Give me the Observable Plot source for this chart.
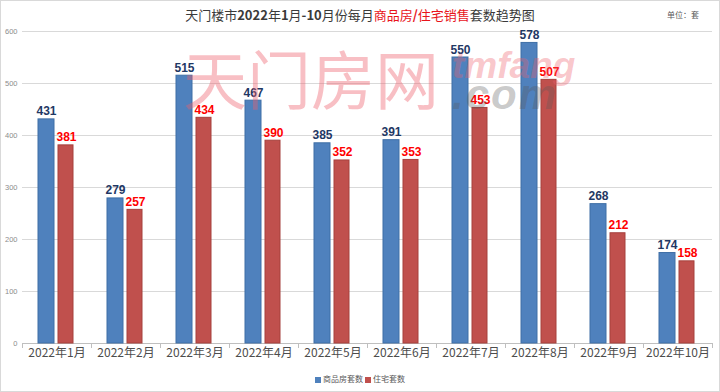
<!DOCTYPE html>
<html>
<head>
<meta charset="utf-8">
<script src="https://cdn.jsdelivr.net/npm/d3@7"></script>
<script src="https://cdn.jsdelivr.net/npm/@observablehq/plot@0.6"></script>
<style>
  html, body { margin: 0; padding: 0; background: #fff; }
  #wrap { position: relative; width: 720px; height: 392px; overflow: hidden; font-family: "Noto Sans CJK SC", sans-serif; }
  #chart { position: absolute; left: 0; top: 0; }
  .abs { position: absolute; white-space: nowrap; pointer-events: none; }
  #title { left: 0; width: 720px; top: 7px; text-align: center; font-size: 13px; line-height: 16px; color: #3a3a3a; }
  #title .r { color: #e8141b; }
  #unit { left: 667px; top: 9px; font-size: 8px; color: #595959; }
  #legend { left: 0; width: 720px; top: 374px; text-align: center; font-size: 8px; line-height: 10px; color: #595959; }
  #legend .sw { display: inline-block; width: 6px; height: 6px; margin: 0 2px 0 0; vertical-align: -0.5px; }
  #wm1 { left: 183px; top: 44px; font-size: 64px; line-height: 64px; color: rgba(238, 95, 108, 0.40); }
  #wm2 { left: 452px; top: 43px; font-family: "Liberation Sans", sans-serif; font-size: 37px; line-height: 46px; font-weight: bold; font-style: italic; letter-spacing: 0px; color: rgba(238, 95, 108, 0.36); }
  #wm3 { left: 452px; top: 70px; font-family: "Liberation Sans", sans-serif; font-size: 42px; line-height: 50px; font-weight: bold; font-style: italic; letter-spacing: 2px; color: rgba(90, 90, 90, 0.32); }
  #border { left: 0; top: 0; width: 718px; height: 390px; border: 1px solid #d9d9d9; }
</style>
</head>
<body>
<div id="wrap">
  <div id="chart"></div>
  <div class="abs" id="wm1">天门房网</div>
  <div class="abs" id="wm2">tmfang</div>
  <div class="abs" id="wm3">.com</div>
  <div class="abs" id="title">天门楼市<b>2022</b>年<b>1</b>月<b>-10</b>月份每月<span class="r">商品房<b>/</b>住宅销售</span>套数趋势图</div>
  <div class="abs" id="unit">单位：套</div>
  <div class="abs" id="legend"><span class="sw" style="background:#4f81bd"></span>商品房套数 <span class="sw" style="background:#c0504d"></span>住宅套数</div>
  <div class="abs" id="border"></div>
</div>
<script>
const months = ["2022年1月","2022年2月","2022年3月","2022年4月","2022年5月","2022年6月","2022年7月","2022年8月","2022年9月","2022年10月"];
const commercial = [431, 279, 515, 467, 385, 391, 550, 578, 268, 174];
const residential = [381, 257, 434, 390, 352, 353, 453, 507, 212, 158];
const yTicks = [0, 100, 200, 300, 400, 500, 600];

const table = months.map((m, i) => ({month: m, commercial: commercial[i], residential: residential[i]}));
const last = months[months.length - 1];

const numFont = "'Liberation Sans', Arial, sans-serif";

const chart = Plot.plot({
  width: 720,
  height: 392,
  marginTop: 31,
  marginBottom: 49,
  marginLeft: 22,
  marginRight: 8,
  style: {fontFamily: "'Noto Sans CJK SC', sans-serif", background: "transparent"},
  x: {domain: months, padding: 0, axis: null},
  y: {domain: [0, 600], axis: null},
  marks: [
    Plot.gridY(yTicks, {stroke: "#d9d9d9", strokeOpacity: 1}),
    Plot.axisY(yTicks, {tickSize: 0, tickPadding: 5, fontSize: 7.5, color: "#8c8c8c", fontFamily: numFont, label: null}),
    Plot.ruleY([0], {stroke: "#bfbfbf"}),
    Plot.ruleX(months, {x: d => d, y1: 0, y2: 0, dx: -34.5, insetBottom: -5, stroke: "#bfbfbf"}),
    Plot.ruleX([last], {x: d => d, y1: 0, y2: 0, dx: 34.5, insetBottom: -5, stroke: "#bfbfbf"}),
    Plot.barY(table, {x: "month", y: "commercial", fill: "#4f81bd", stroke: "#3f6fa6", strokeWidth: 1, insetLeft: 16, insetRight: 37}),
    Plot.barY(table, {x: "month", y: "residential", fill: "#c0504d", stroke: "#a6403d", strokeWidth: 1, insetLeft: 36, insetRight: 18}),
    Plot.text(table, {x: "month", y: "commercial", text: d => String(d.commercial), dx: -10.5, dy: -4, lineAnchor: "bottom", fill: "#1f3864", fontWeight: "bold", fontSize: 12, fontFamily: numFont}),
    Plot.text(table, {x: "month", y: "residential", text: d => String(d.residential), dx: 9.5, dy: -4, lineAnchor: "bottom", fill: "#ff0000", fontWeight: "bold", fontSize: 12, fontFamily: numFont}),
    Plot.axisX({tickSize: 0, tickPadding: 5, fontSize: 12, color: "#4d4d4d", label: null})
  ]
});
document.getElementById("chart").appendChild(chart);
</script>
</body>
</html>
